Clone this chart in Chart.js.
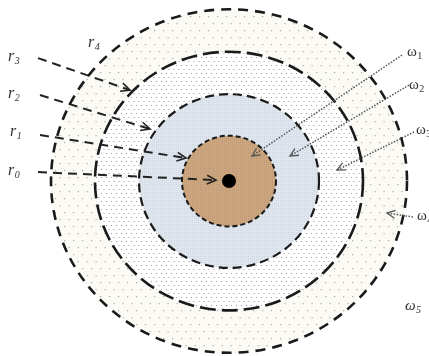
<!DOCTYPE html>
<html>
<head>
<meta charset="utf-8">
<script src="https://cdn.jsdelivr.net/npm/chart.js@4/dist/chart.umd.min.js"></script>
<style>
  html, body { margin: 0; padding: 0; background: #fff; }
  #wrap { width: 429px; height: 356px; }
</style>
</head>
<body>
<div id="wrap"><canvas id="c" width="429" height="356"></canvas></div>
<script>
// ring radii (data units, centre at 0,0), inner to outer
const ringRadius = [47, 90, 134, 178];

// r-arrows: start -> tip
const rArrowStartX = [-191, -189, -189, -191];
const rArrowStartY = [9.3, 47.7, 89.1, 127.4];
const rArrowEndX = [-13, -43, -79, -99];
const rArrowEndY = [1, 23.8, 53.9, 94.2];

// omega arrows: start -> tip
const wArrowStartX = [173, 180, 185, 184];
const wArrowStartY = [130.5, 99.5, 50.8, -37.3];
const wArrowEndX = [23, 61, 108, 158];
const wArrowEndY = [25.9, 25.9, 11.4, -33.2];

// labels
const rLabels = ['0', '1', '2', '3', '4'];
const rLabelX = [-221, -219, -221, -221, -141];
const rLabelY = [10.4, 50.8, 90.1, 128.5, 143];
const wLabels = ['1', '2', '3', '4', '5'];
const wLabelX = [178, 180, 187, 188, 176];
const wLabelY = [133.6, 99.5, 52.9, -36.3, -129.5];

const centre = [{ x: 0, y: 0 }];

function makePattern(w, h, bg, dots, dotColor, size) {
  const c = document.createElement('canvas');
  c.width = w; c.height = h;
  const g = c.getContext('2d');
  g.fillStyle = bg;
  g.fillRect(0, 0, w, h);
  g.fillStyle = dotColor;
  dots.forEach(([x, y]) => g.fillRect(x, y, size, size));
  return g.createPattern(c, 'repeat');
}

const ringFills = [
  makePattern(2, 2, '#cba680', [[0, 0]], '#bf9970', 1),
  makePattern(2, 2, '#dfe6ee', [[0, 0]], '#d0d9e3', 1),
  makePattern(5, 8, '#ffffff', [[1, 1], [3.5, 5]], '#9a9a9a', 1),
  makePattern(9, 14, '#fbfaf5', [[1, 2], [5.5, 9]], '#adada8', 1.2)
];
const ringDash = [[5, 3], [9, 5], [16, 6], [10, 7]];
const ringWidth = [2, 2.2, 2.6, 2.6];

const ringPlugin = {
  id: 'rings',
  beforeDatasetsDraw(chart) {
    const { ctx, scales: { x, y } } = chart;
    const cx = x.getPixelForValue(0), cy = y.getPixelForValue(0);
    ctx.save();
    for (let i = ringRadius.length - 1; i >= 0; i--) {
      const rx = Math.abs(x.getPixelForValue(ringRadius[i]) - cx);
      const ry = Math.abs(y.getPixelForValue(ringRadius[i]) - cy);
      ctx.beginPath();
      ctx.ellipse(cx, cy, rx, ry, 0, 0, Math.PI * 2);
      ctx.fillStyle = ringFills[i];
      ctx.fill();
    }
    for (let i = 0; i < ringRadius.length; i++) {
      const rx = Math.abs(x.getPixelForValue(ringRadius[i]) - cx);
      const ry = Math.abs(y.getPixelForValue(ringRadius[i]) - cy);
      ctx.beginPath();
      ctx.ellipse(cx, cy, rx, ry, 0, 0, Math.PI * 2);
      ctx.setLineDash(ringDash[i]);
      ctx.lineWidth = ringWidth[i];
      ctx.strokeStyle = '#1a1a1a';
      ctx.stroke();
    }
    ctx.restore();
  }
};

function drawSub(ctx, base, sub, px, py, font, subFont, color) {
  ctx.fillStyle = color;
  ctx.textBaseline = 'middle';
  ctx.textAlign = 'left';
  ctx.font = font;
  ctx.fillText(base, px, py);
  const w = ctx.measureText(base).width;
  ctx.font = subFont;
  ctx.fillText(sub, px + w + 0.5, py + 4);
}

const overlayPlugin = {
  id: 'overlay',
  afterDatasetsDraw(chart) {
    const { ctx, scales: { x, y } } = chart;
    ctx.save();
    // arrowheads
    chart.data.datasets.forEach((ds, di) => {
      if (!ds.arrow) return;
      const pts = chart.getDatasetMeta(di).data;
      const a = pts[pts.length - 2], b = pts[pts.length - 1];
      const ang = Math.atan2(b.y - a.y, b.x - a.x);
      const len = ds.arrow === 'r' ? 10 : 9;
      const spread = 0.45;
      ctx.setLineDash([]);
      ctx.lineWidth = ds.arrow === 'r' ? 1.6 : 1.3;
      ctx.strokeStyle = ds.borderColor;
      ctx.beginPath();
      ctx.moveTo(b.x - len * Math.cos(ang - spread), b.y - len * Math.sin(ang - spread));
      ctx.lineTo(b.x, b.y);
      ctx.lineTo(b.x - len * Math.cos(ang + spread), b.y - len * Math.sin(ang + spread));
      ctx.stroke();
    });
    // r labels
    rLabels.forEach((s, i) => {
      drawSub(ctx, 'r', s, x.getPixelForValue(rLabelX[i]), y.getPixelForValue(rLabelY[i]),
        'italic 16px "Liberation Serif"', 'italic 10px "Liberation Serif"', '#333');
    });
    // omega labels
    wLabels.forEach((s, i) => {
      const italic = i === 4 ? 'italic ' : '';
      drawSub(ctx, 'ω', s, x.getPixelForValue(wLabelX[i]), y.getPixelForValue(wLabelY[i]),
        italic + '15px "Liberation Serif"', italic + '10px "Liberation Serif"', '#333');
    });
    ctx.restore();
  }
};

const datasets = [];
rArrowStartX.forEach((_, i) => {
  datasets.push({
    data: [{ x: rArrowStartX[i], y: rArrowStartY[i] }, { x: rArrowEndX[i], y: rArrowEndY[i] }],
    showLine: true, pointRadius: 0, borderColor: '#222', borderWidth: 2,
    borderDash: [9, 6], arrow: 'r'
  });
});
wArrowStartX.forEach((_, i) => {
  datasets.push({
    data: [{ x: wArrowStartX[i], y: wArrowStartY[i] }, { x: wArrowEndX[i], y: wArrowEndY[i] }],
    showLine: true, pointRadius: 0, borderColor: '#555', borderWidth: 1.5,
    borderDash: [1.5, 1.5], arrow: 'w'
  });
});
datasets.push({
  data: centre, pointRadius: 7, backgroundColor: '#000', borderColor: '#000', borderWidth: 0
});

new Chart(document.getElementById('c'), {
  type: 'scatter',
  data: { datasets },
  options: {
    responsive: false,
    animation: false,
    events: [],
    layout: { padding: 0, autoPadding: false },
    plugins: { legend: { display: false }, tooltip: { enabled: false } },
    scales: {
      x: { type: 'linear', display: false, min: -229, max: 200 },
      y: { type: 'linear', display: false, min: -181.3, max: 187.6 }
    }
  },
  plugins: [ringPlugin, overlayPlugin]
});
</script>
</body>
</html>
